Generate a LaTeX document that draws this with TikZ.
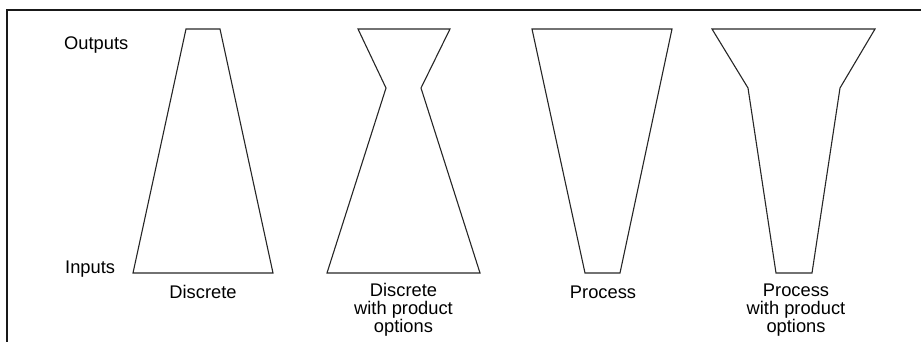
\documentclass[tikz,border=0pt]{standalone}
\usepackage{fontspec}
\setmainfont{Liberation Sans}
\begin{document}
\begin{tikzpicture}[x=1pt,y=-1pt,
  funnel/.style={draw=black!85, line width=1.1pt, line join=miter},
  frameline/.style={draw=black!90, line width=1.8pt},
  lbl/.style={font=\fontsize{18.3}{18}\selectfont, align=center, inner sep=0pt, anchor=base},
  sidelbl/.style={font=\fontsize{18.3}{18}\selectfont, inner sep=0pt, anchor=base west}]
\useasboundingbox (0,0) rectangle (921,342);

% open frame: top and left edges only
\draw[frameline] (7,342) -- (7,10) -- (921,10);

% axis labels
\node[sidelbl] (outputs) at (64,50) {Outputs};
\node[sidelbl] (inputs) at (65,273) {Inputs};

% discrete
\draw[funnel] (186,29) -- (220,29) -- (273,273) -- (133,273) -- cycle;
% discrete with product options
\draw[funnel] (358,29) -- (450,29) -- (421,88) -- (480,273) -- (327,273) -- (386,88) -- cycle;
% process
\draw[funnel] (532,29) -- (672,29) -- (620,273) -- (585,273) -- cycle;
% process with product options
\draw[funnel] (712,29) -- (875,29) -- (840,88) -- (812,273) -- (776,273) -- (748,88) -- cycle;

% captions
\node[lbl] (discrete) at (203,298) {Discrete};
\node[lbl, anchor=north] (discreteopt) at (403.5,283.5) {Discrete\\with product\\options};
\node[lbl] (process) at (603,298) {Process};
\node[lbl, anchor=north] (processopt) at (796,283.5) {Process\\with product\\options};
\end{tikzpicture}
\end{document}
